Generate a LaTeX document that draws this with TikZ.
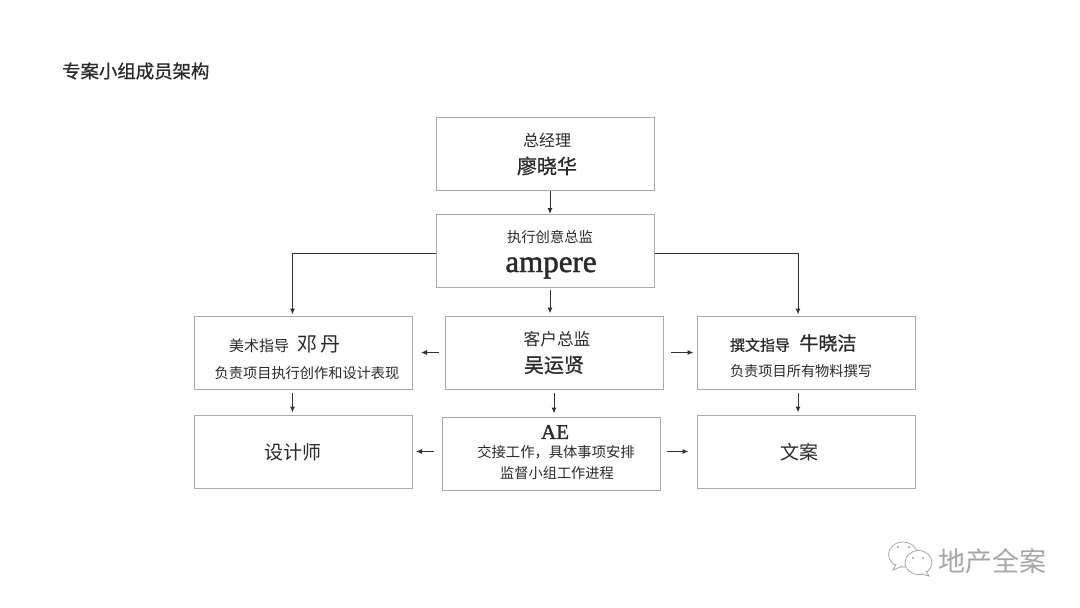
\documentclass[tikz,border=0pt]{standalone}
\usepackage{fontspec}
\setmainfont{Noto Sans CJK SC}
\newfontfamily\latinfont[FakeBold=1.5]{Liberation Serif}
\newfontfamily\heavyfont[FakeBold=0.8]{Noto Sans CJK SC}
\usetikzlibrary{arrows.meta}
\newcommand{\fs}[1]{\fontsize{#1}{#1}\selectfont}
\definecolor{boxgray}{HTML}{A9A9A9}
\definecolor{txtdark}{HTML}{2A2A2A}
\definecolor{markgray}{HTML}{A6A6A6}
\tikzset{
  boxnode/.style={draw=boxgray,line width=1pt,minimum width=218pt,minimum height=73pt,inner sep=0pt},
  label/.style={text=txtdark,inner sep=0pt,font=\fs{#1}},
  arr/.style={draw=black!80,line width=1pt,-{Latex[length=6pt,width=5pt]}},
}
\begin{document}
\begin{tikzpicture}[x=1pt,y=-1pt]
  \useasboundingbox[fill=white] (0,0) rectangle (1080,608);
  % Titel
  \node[label=18.4,anchor=west] (titel) at (62,71) {\heavyfont 专案小组成员架构};
  % Boxar
  \node[boxnode] (zong) at (545,153.5) {};
  \node[boxnode] (zhixing) at (545,251) {};
  \node[boxnode] (meishu) at (303.5,352.5) {};
  \node[boxnode] (kehu) at (554,352.5) {};
  \node[boxnode] (zhuanwen) at (806,352.5) {};
  \node[boxnode] (sheji) at (303.5,451.5) {};
  \node[boxnode] (ae) at (551,453.5) {};
  \node[boxnode] (wenan) at (806,451.5) {};
  % Texter
  \node[label=16] (t1) at (547,140) {总经理};
  \node[label=20] (t2) at (547,166) {\heavyfont 廖晓华};
  \node[label=14.3] (t3) at (550,237) {执行创意总监};
  \node[label=31] (t4) at (551,268) {\latinfont ampere};
  \node[label=15] (t5) at (259,346) {美术指导};
  \node[label=20] (t6) at (319,344) {邓\,丹};
  \node[label=14.2] (t7) at (307,373) {负责项目执行创作和设计表现};
  \node[label=16.7] (t8) at (557,339) {客户总监};
  \node[label=20] (t9) at (554,365) {\heavyfont 吴运贤};
  \node[label=15] (t10) at (760,345) {\heavyfont 撰文指导};
  \node[label=19] (t11) at (828,343) {\heavyfont 牛晓洁};
  \node[label=14.2] (t12) at (801,371) {负责项目所有物料撰写};
  \node[label=19] (t13) at (293,452) {设计师};
  \node[label=21] (t14) at (555,432) {\latinfont AE};
  \node[label=14.3] (t15) at (556,452) {交接工作，具体事项安排};
  \node[label=14.2] (t16) at (557,473) {监督小组工作进程};
  \node[label=19] (t17) at (799,452) {文案};
  % Pilar
  \draw[arr] ([xshift=5pt]zong.south) -- ([xshift=5pt]zhixing.north);
  \draw[arr,shorten <=2pt,shorten >=2pt] ([xshift=5pt]zhixing.south) -- ([xshift=5pt]zhixing.south |- kehu.north);
  \draw[arr,shorten >=1pt] ([yshift=-2pt]zhixing.west) -| ([xshift=-11pt]meishu.north);
  \draw[arr,shorten >=1pt] ([yshift=-2pt]zhixing.east) -| ([xshift=-8pt]zhuanwen.north);
  \draw[arr,shorten <=6pt,shorten >=8pt] (kehu.west) -- (meishu.east);
  \draw[arr,shorten <=7pt,shorten >=3pt] (kehu.east) -- (zhuanwen.west);
  \draw[arr,shorten <=3pt,shorten >=2pt] ([xshift=-11pt]meishu.south) -- ([xshift=-11pt]sheji.north);
  \draw[arr,shorten <=3pt,shorten >=3pt] (kehu.south) -- (kehu.south |- ae.north);
  \draw[arr,shorten <=3pt,shorten >=2pt] ([xshift=-8pt]zhuanwen.south) -- ([xshift=-8pt]wenan.north);
  \draw[arr,shorten <=8pt,shorten >=3pt] (ae.west |- sheji.east) -- (sheji.east);
  \draw[arr,shorten <=6pt,shorten >=8pt] (ae.east |- wenan.west) -- (wenan.west);
  % Vattenmarke
  \draw[markgray,fill=white,line width=0.8pt] (903,554.5) ellipse (14.5 and 12.5);
  \draw[markgray,fill=white,line width=0.8pt] (896,564) -- (893,570) -- (903,566);
  \draw[markgray,fill=white,line width=0.8pt] (918.5,562.5) ellipse (13.5 and 12);
  \draw[markgray,fill=white,line width=0.8pt] (926,571) -- (929,576) -- (921,574);
  \foreach \p in {(898,547),(909,547),(913,558),(923,558)}
    \fill[markgray] \p circle (1.2);
  \node[inner sep=0pt,anchor=west,text=markgray,font=\fs{27}] (mark) at (938,561) {地产全案};
\end{tikzpicture}
\end{document}
